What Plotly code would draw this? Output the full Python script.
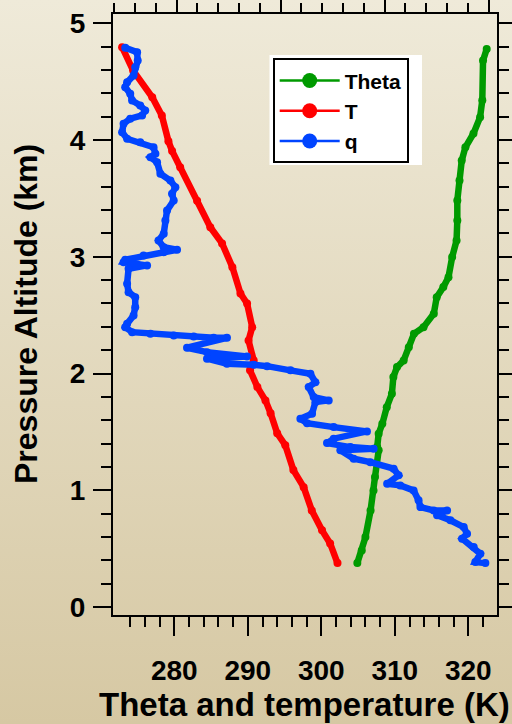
import base64
import plotly.graph_objects as go

# ---------------- data ----------------
T_alt = [4.795, 4.595, 4.366, 4.21, 3.99, 3.906, 3.767, 3.48, 3.253, 3.114, 2.911, 2.686,
         2.60, 2.397, 2.283, 2.112, 2.027, 1.884, 1.77, 1.66, 1.488, 1.386, 1.173, 1.027,
         0.828, 0.657, 0.545, 0.377]
T_val = [272.9, 274.4, 277.0, 278.3, 279.2, 279.7, 280.8, 283.1, 284.9, 286.5, 287.9, 289.0,
         289.9, 290.6, 290.1, 290.8, 290.3, 291.3, 292.4, 293.1, 294.0, 295.1, 296.2, 297.6,
         298.7, 300.1, 301.2, 302.2]

theta_alt = [4.78, 4.68, 4.34, 4.195, 4.056, 3.938, 3.824, 3.653, 3.482, 3.31, 3.14, 2.997,
             2.825, 2.74, 2.654, 2.512, 2.397, 2.34, 2.226, 2.112, 2.055, 1.97, 1.827, 1.712,
             1.57, 1.485, 1.37, 1.342, 1.113, 0.999, 0.828, 0.599, 0.485, 0.377]
theta_val = [322.5, 322.0, 321.9, 321.6, 320.7, 319.6, 319.1, 318.8, 318.5, 318.5, 318.4, 317.8,
             317.3, 316.6, 315.7, 315.3, 313.9, 312.6, 311.9, 311.2, 310.3, 309.8, 309.6, 308.9,
             308.3, 307.8, 307.6, 307.8, 307.3, 307.1, 306.7, 306.0, 305.5, 304.9]

q_alt = [4.79, 4.752, 4.68, 4.623, 4.552, 4.495, 4.452, 4.396, 4.338, 4.295, 4.252, 4.21,
         4.182, 4.139, 4.067, 4.01, 3.981, 3.938, 3.882, 3.853, 3.81, 3.711, 3.653, 3.596,
         3.539, 3.482, 3.397, 3.311, 3.197, 3.14, 3.082, 3.06, 3.039, 3.011, 2.974, 2.954,
         2.934, 2.926, 2.897, 2.769, 2.697, 2.654, 2.568, 2.497, 2.426, 2.397, 2.354, 2.341,
         2.326, 2.318, 2.306, 2.306, 2.221, 2.183, 2.146, 2.127, 2.084, 2.075, 2.063, 2.027,
         1.998, 1.926, 1.884, 1.798, 1.77, 1.755, 1.656, 1.613, 1.575, 1.541, 1.504, 1.442,
         1.404, 1.37, 1.356, 1.342, 1.271, 1.241, 1.185, 1.128, 1.056, 1.042, 0.999, 0.914,
         0.856, 0.828, 0.828, 0.786, 0.743, 0.685, 0.628, 0.586, 0.514, 0.457, 0.385, 0.377]
q_val = [2.53, 3.10, 3.13, 3.01, 2.93, 2.62, 2.53, 2.77, 2.86, 3.25, 3.49, 3.34,
         2.77, 2.45, 2.38, 2.62, 3.25, 3.89, 3.98, 3.74, 4.06, 4.22, 4.70, 4.94,
         4.78, 4.86, 4.54, 4.46, 4.38, 4.13, 4.38, 5.02, 4.38, 3.41, 2.53, 2.45,
         3.10, 3.58, 2.69, 2.62, 2.69, 3.01, 3.01, 2.93, 2.62, 2.53, 2.86, 3.74,
         4.86, 5.82, 6.78, 7.42, 5.50, 6.46, 8.38, 6.46, 7.42, 8.70, 9.35, 10.47,
         11.43, 11.67, 11.35, 11.59, 12.31, 11.67, 11.51, 10.95, 11.27, 12.55, 14.15, 12.55,
         12.23, 13.35, 14.47, 12.87, 13.51, 14.31, 15.43, 15.67, 15.12, 15.75, 16.39, 16.63,
         16.72, 17.36, 18.0, 17.52, 18.16, 18.80, 18.96, 18.72, 19.28, 19.60, 19.36, 19.84]

x_major = [280, 290, 300, 310, 320]
x_minor = [v for v in range(274, 324, 2) if v % 10 != 0]
series_names = ["Theta", "T", "q"]
series_colors = ["#009A00", "#FF0000", "#0044FF"]

FONT = "Liberation Sans, Arial, Helvetica, sans-serif"

# plot-area geometry (pixels) of the 512x724 page
W, H = 512, 724
L, R, T, B = 113, 497, 14, 615
pw, ph = R - L, B - T

def px(xp):
    return (xp - L) / pw

def py(yp):
    return (B - yp) / ph

fig = go.Figure()

# data traces
fig.add_trace(go.Scatter(x=theta_val, y=theta_alt, mode="lines+markers", name="Theta",
                         line=dict(color=series_colors[0], width=6.5),
                         marker=dict(color=series_colors[0], size=8), showlegend=False))
fig.add_trace(go.Scatter(x=T_val, y=T_alt, mode="lines+markers", name="T",
                         line=dict(color=series_colors[1], width=6.5),
                         marker=dict(color=series_colors[1], size=8), showlegend=False))
fig.add_trace(go.Scatter(x=q_val, y=q_alt, mode="lines+markers", name="q", xaxis="x2",
                         line=dict(color=series_colors[2], width=6.5),
                         marker=dict(color=series_colors[2], size=8), showlegend=False))

# legend entries
for nm, c in zip(series_names, series_colors):
    fig.add_trace(go.Scatter(x=[None], y=[None], mode="lines+markers", name=nm,
                             line=dict(color=c, width=2.5),
                             marker=dict(color=c, size=15), showlegend=True))

# gradient background
svg = ('<svg xmlns="http://www.w3.org/2000/svg" width="512" height="724">'
       '<defs><linearGradient id="g" x1="0" y1="0" x2="0" y2="1">'
       '<stop offset="0" stop-color="#EFEAD9"/><stop offset="1" stop-color="#D6C8A3"/>'
       '</linearGradient></defs><rect width="512" height="724" fill="url(#g)"/></svg>')
src = "data:image/svg+xml;base64," + base64.b64encode(svg.encode()).decode()

fig.update_layout(
    width=W, height=H,
    margin=dict(l=L, r=W - R, t=T, b=H - B, pad=0, autoexpand=False),
    paper_bgcolor="#E4DCC2",
    plot_bgcolor="rgba(0,0,0,0)",
    font=dict(family=FONT, color="black", weight="bold"),
    images=[dict(source=src, xref="paper", yref="paper", x=px(0), y=py(0),
                 sizex=W / pw, sizey=H / ph, xanchor="left", yanchor="top",
                 sizing="stretch", layer="below")],
    xaxis=dict(range=[271.66, 323.9], showgrid=False, zeroline=False, automargin=False,
               showline=True, linecolor="black", linewidth=2, mirror=True,
               ticks="outside", ticklen=19, tickwidth=2, tickcolor="black",
               tickmode="array", tickvals=x_major,
               tickfont=dict(family=FONT, size=28, color="black", weight="bold"),
               ticklabelstandoff=10,
               minor=dict(tickmode="array", tickvals=x_minor, ticks="outside",
                          ticklen=10, tickwidth=2, tickcolor="black")),
    xaxis2=dict(overlaying="x", side="top", anchor="y", range=[1.942, 20.40],
                showgrid=False, zeroline=False, showline=False, automargin=False,
                ticks="outside", ticklen=18, tickwidth=2, tickcolor="black",
                dtick=5, tick0=0, showticklabels=False,
                minor=dict(dtick=1, tick0=0, ticks="outside", ticklen=10,
                           tickwidth=2, tickcolor="black")),
    yaxis=dict(range=[-0.068, 5.079], showgrid=False, zeroline=False, automargin=False,
               showline=True, linecolor="black", linewidth=2, mirror="ticks",
               ticks="outside", ticklen=18, tickwidth=2, tickcolor="black",
               dtick=1, tick0=0,
               tickfont=dict(family=FONT, size=28, color="black", weight="bold"),
               ticklabelstandoff=2,
               minor=dict(dtick=0.2, tick0=0, ticks="outside", ticklen=10,
                          tickwidth=2, tickcolor="black")),
    legend=dict(x=px(272.7), y=py(58.3), xanchor="left", yanchor="top",
                bgcolor="white", bordercolor="black", borderwidth=2,
                font=dict(family=FONT, size=21, color="black", weight="bold"),
                itemwidth=60, tracegroupgap=0),
    shapes=[dict(type="rect", xref="paper", yref="paper",
                 x0=px(269.5), x1=px(422), y0=py(165), y1=py(55),
                 fillcolor="white", line=dict(width=0), layer="above")],
    annotations=[
        dict(text="Theta and temperature (K)", xref="paper", yref="paper",
             x=px(304), y=py(704), xanchor="center", yanchor="middle", showarrow=False,
             font=dict(family=FONT, size=33, color="black", weight="bold")),
        dict(text="Pressure Altitude (km)", xref="paper", yref="paper",
             x=px(26), y=py(314), xanchor="center", yanchor="middle", showarrow=False,
             textangle=-90,
             font=dict(family=FONT, size=32, color="black", weight="bold")),
    ],
)

fig.write_html("out.html")
